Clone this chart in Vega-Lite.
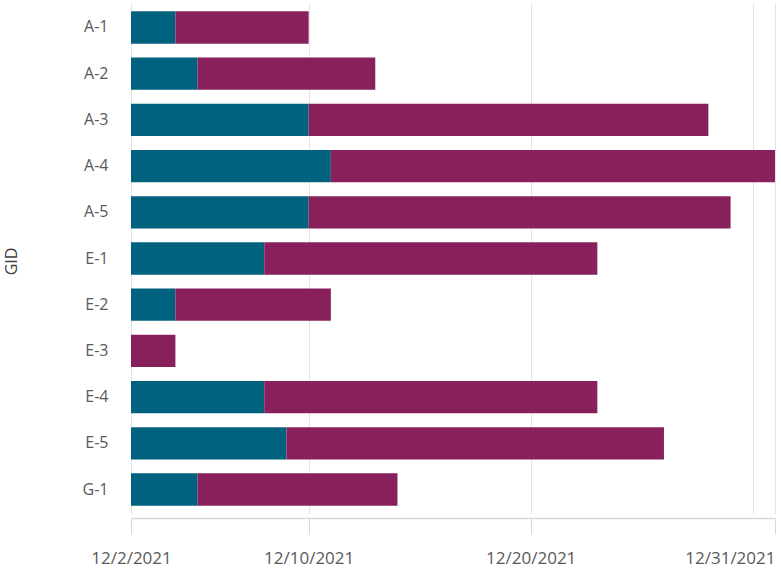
{
  "$schema": "https://vega.github.io/schema/vega-lite/v6.json",
  "width": 644,
  "height": 511,
  "autosize": {"type": "none"},
  "padding": {"left": 131, "top": 3, "right": 6, "bottom": 56},
  "background": "white",
  "config": {"view": {"stroke": null}, "font": "Open Sans"},
  "data": {"values": [
    {"gid": "A-1", "phase": "first", "from": "Dec 2, 2021", "to": "Dec 4, 2021"},
    {"gid": "A-1", "phase": "second", "from": "Dec 4, 2021", "to": "Dec 10, 2021"},
    {"gid": "A-2", "phase": "first", "from": "Dec 2, 2021", "to": "Dec 5, 2021"},
    {"gid": "A-2", "phase": "second", "from": "Dec 5, 2021", "to": "Dec 13, 2021"},
    {"gid": "A-3", "phase": "first", "from": "Dec 2, 2021", "to": "Dec 10, 2021"},
    {"gid": "A-3", "phase": "second", "from": "Dec 10, 2021", "to": "Dec 28, 2021"},
    {"gid": "A-4", "phase": "first", "from": "Dec 2, 2021", "to": "Dec 11, 2021"},
    {"gid": "A-4", "phase": "second", "from": "Dec 11, 2021", "to": "Dec 31, 2021"},
    {"gid": "A-5", "phase": "first", "from": "Dec 2, 2021", "to": "Dec 10, 2021"},
    {"gid": "A-5", "phase": "second", "from": "Dec 10, 2021", "to": "Dec 29, 2021"},
    {"gid": "E-1", "phase": "first", "from": "Dec 2, 2021", "to": "Dec 8, 2021"},
    {"gid": "E-1", "phase": "second", "from": "Dec 8, 2021", "to": "Dec 23, 2021"},
    {"gid": "E-2", "phase": "first", "from": "Dec 2, 2021", "to": "Dec 4, 2021"},
    {"gid": "E-2", "phase": "second", "from": "Dec 4, 2021", "to": "Dec 11, 2021"},
    {"gid": "E-3", "phase": "second", "from": "Dec 2, 2021", "to": "Dec 4, 2021"},
    {"gid": "E-4", "phase": "first", "from": "Dec 2, 2021", "to": "Dec 8, 2021"},
    {"gid": "E-4", "phase": "second", "from": "Dec 8, 2021", "to": "Dec 23, 2021"},
    {"gid": "E-5", "phase": "first", "from": "Dec 2, 2021", "to": "Dec 9, 2021"},
    {"gid": "E-5", "phase": "second", "from": "Dec 9, 2021", "to": "Dec 26, 2021"},
    {"gid": "G-1", "phase": "first", "from": "Dec 2, 2021", "to": "Dec 5, 2021"},
    {"gid": "G-1", "phase": "second", "from": "Dec 5, 2021", "to": "Dec 14, 2021"}
  ]},
  "mark": {"type": "bar"},
  "encoding": {
    "y": {
      "field": "gid", "type": "nominal", "sort": null,
      "scale": {"paddingInner": 0.3, "paddingOuter": 0.18},
      "axis": {
        "title": "GID", "titleFont": "Open Sans", "titleFontSize": 16, "titleFontWeight": "normal",
        "titleColor": "#404040", "titleX": -112, "titleY": 258, "titleAngle": 270, "titleAlign": "center", "titleBaseline": "bottom",
        "labelFont": "Open Sans", "labelFontSize": 16, "labelColor": "#595959",
        "labelPadding": 23, "ticks": false, "domain": false, "grid": false
      }
    },
    "x": {
      "field": "from", "type": "temporal",
      "scale": {"domain": [{"year": 2021, "month": 12, "date": 2}, {"year": 2021, "month": 12, "date": 31}]},
      "axis": {
        "title": null,
        "offset": 4,
        "values": [
          {"year": 2021, "month": 12, "date": 2},
          {"year": 2021, "month": 12, "date": 10},
          {"year": 2021, "month": 12, "date": 20},
          {"year": 2021, "month": 12, "date": 30},
          {"year": 2021, "month": 12, "date": 31}
        ],
        "labelExpr": "date(datum.value) == 30 ? '' : timeFormat(datum.value, '%-m/%-d/%Y')",
        "labelFont": "Open Sans", "labelFontSize": 17, "labelColor": "#595959",
        "labelPadding": 16,
        "labelAlign": {"condition": {"test": "date(datum.value) == 31", "value": "right"}, "value": "center"},
        "tickSize": 16, "tickColor": "#d9d9d9",
        "tickOpacity": {"condition": {"test": "date(datum.value) == 30", "value": 0}, "value": 1},
        "domainColor": "#d9d9d9", "domainWidth": 1.5,
        "grid": true, "gridColor": "#e3e3e3", "gridWidth": 1
      }
    },
    "x2": {"field": "to"},
    "color": {
      "field": "phase", "type": "nominal",
      "scale": {"domain": ["first", "second"], "range": ["#00627f", "#88205c"]},
      "legend": null
    }
  }
}
